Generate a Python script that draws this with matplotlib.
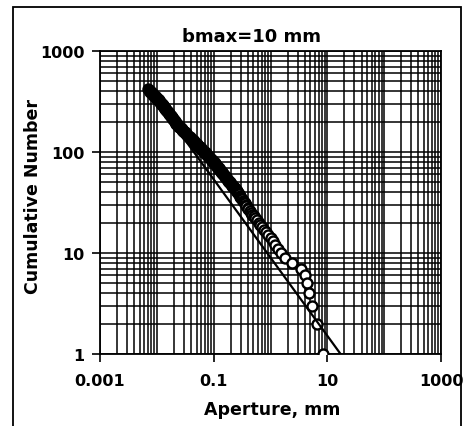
import numpy as np
import matplotlib
matplotlib.use('Agg')
import matplotlib.pyplot as plt
from matplotlib.ticker import FixedLocator, FixedFormatter, NullFormatter
from matplotlib.patches import Rectangle

# Cumulative number of fractures with aperture larger than b (b in mm)
aperture = [
    0.00703, 0.00725, 0.00748, 0.00770, 0.00793, 0.00818, 0.00843, 0.00870, 0.00898,
    0.00925, 0.00955, 0.00985, 0.0101, 0.0105, 0.0108, 0.0111, 0.0115, 0.0118,
    0.0120, 0.0123, 0.0126, 0.0129, 0.0132, 0.0136, 0.0139, 0.0142, 0.0146, 0.0150,
    0.0153, 0.0157, 0.0161, 0.0165, 0.0169, 0.0174, 0.0179, 0.0183, 0.0187, 0.0192,
    0.0196, 0.0201, 0.0207, 0.0211, 0.0216, 0.0221, 0.0227, 0.0233, 0.0239, 0.0246,
    0.0254, 0.0264, 0.0274, 0.0282, 0.0290, 0.0300, 0.0311, 0.0320, 0.0330, 0.0342,
    0.0355, 0.0366, 0.0377, 0.0390, 0.0403, 0.0416, 0.0430, 0.0442, 0.0455, 0.0471,
    0.0488, 0.0503, 0.0519, 0.0535, 0.0551, 0.0569, 0.0587, 0.0607, 0.0628, 0.0650,
    0.0673, 0.0697, 0.0721, 0.0742, 0.0764, 0.0785, 0.0807, 0.0840, 0.0873, 0.0900,
    0.0929, 0.0953, 0.0977, 0.100, 0.103, 0.105, 0.107, 0.110, 0.113, 0.116,
    0.120, 0.122, 0.124, 0.128, 0.133, 0.136, 0.139, 0.142, 0.145, 0.148, 0.152,
    0.156, 0.160, 0.164, 0.168, 0.172, 0.177, 0.181, 0.186, 0.191, 0.197, 0.203,
    0.209, 0.212, 0.215, 0.222, 0.230, 0.233, 0.237, 0.245, 0.253, 0.257, 0.262,
    0.270, 0.277, 0.286, 0.296, 0.305, 0.316, 0.326, 0.338, 0.351, 0.364, 0.378,
    0.394, 0.410, 0.428,
    0.45, 0.48, 0.51, 0.54, 0.58, 0.62, 0.66, 0.71, 0.76, 0.83, 0.91, 1.00, 1.12,
    1.22, 1.35, 1.50, 1.83, 2.4, 3.5, 4.0, 4.4, 4.8, 5.4, 6.5, 8.3,
]
cum_number = [
    419, 411, 404, 397, 390, 383, 376, 369, 362,
    355, 349, 343, 337, 331, 325, 319, 313, 307,
    302, 296, 291, 286, 281, 276, 271, 266, 261, 256,
    252, 247, 243, 238, 234, 229, 225, 221, 217, 213,
    210, 206, 202, 198, 195, 191, 188, 184, 181, 178,
    175, 171, 168, 165, 162, 159, 156, 153, 151, 148,
    145, 142, 140, 137, 135, 132, 130, 128, 126, 123,
    121, 119, 117, 115, 113, 111, 109, 107, 105, 103,
    101, 99, 97, 95, 94, 92, 91, 89, 87, 85,
    84, 82, 81, 79, 78, 77, 76, 74, 73, 71,
    70, 69, 68, 66, 65, 64, 63, 62, 61, 60, 59,
    58, 57, 56, 55, 54, 53, 52, 51, 50, 49, 48,
    47, 46, 46, 45, 44, 44, 43, 42, 41, 41, 40,
    39, 38, 37, 36, 35, 34, 33, 32, 31, 30, 29,
    28, 27, 26,
    25, 24, 23, 22, 21, 20, 19, 18, 17, 16, 15, 14, 13,
    12, 11, 10, 9, 8, 7, 6, 5, 4, 3, 2, 1,
]

# power-law fit, end points
fit_aperture = [0.00703, 17.1]
fit_number = [419, 1]

x_labels = ['0.001', '0.1', '10', '1000']
x_major = [0.001, 0.1, 10, 1000]
y_labels = ['1', '10', '100', '1000']
y_major = [1, 10, 100, 1000]

plt.rcParams['font.family'] = 'DejaVu Sans'
plt.rcParams['font.weight'] = 'bold'

fig = plt.figure(figsize=(4.63, 4.27), dpi=100)
ax = fig.add_axes([100 / 463, 1 - 355 / 427, 341 / 463, 303 / 427])

ax.set_xscale('log')
ax.set_yscale('log')
ax.set_xlim(0.001, 1000)
ax.set_ylim(1, 1000)

# grid lines at every decade and at 2..9 within each decade
x_minor = [m * 10.0 ** e for e in range(-3, 3) for m in range(1, 10) if 10.0 ** e * m not in x_major]
y_minor = [m * 10.0 ** e for e in range(0, 3) for m in range(2, 10)]
ax.xaxis.set_major_locator(FixedLocator(x_major))
ax.xaxis.set_major_formatter(FixedFormatter(x_labels))
ax.xaxis.set_minor_locator(FixedLocator(x_minor))
ax.xaxis.set_minor_formatter(NullFormatter())
ax.yaxis.set_major_locator(FixedLocator(y_major))
ax.yaxis.set_major_formatter(FixedFormatter(y_labels))
ax.yaxis.set_minor_locator(FixedLocator(y_minor))
ax.yaxis.set_minor_formatter(NullFormatter())

ax.grid(True, which='both', color='black', linewidth=1.1)
ax.set_axisbelow(True)
ax.tick_params(axis='x', which='major', pad=8)
ax.tick_params(which='major', direction='out', length=6, width=1.2, labelsize=11.5)
ax.tick_params(axis='y', which='major', pad=5)
ax.tick_params(which='minor', length=0)
for s in ax.spines.values():
    s.set_linewidth(1.3)

ax.plot(aperture, cum_number, 'o', ms=7.2, mfc='white', mec='black', mew=1.7, zorder=3)
ax.plot(fit_aperture, fit_number, color='black', linewidth=1.6, zorder=4, clip_on=True)

fig.text(251 / 463, 1 - 37 / 427, 'bmax=10 mm', ha='center', va='center', fontsize=13)
fig.text(272 / 463, 1 - 410 / 427, 'Aperture, mm', ha='center', va='center', fontsize=12.5)
fig.text(33 / 463, 1 - 196 / 427, 'Cumulative Number', ha='center', va='center',
         rotation=90, fontsize=12.5)

# outer box round the whole chart
fig.patches.append(Rectangle((13 / 463, -0.05), 448 / 463, 1.05 - 8 / 427,
                             transform=fig.transFigure, fill=False,
                             edgecolor='black', linewidth=1.3))

plt.savefig('out.png', dpi=100)
plt.close()
